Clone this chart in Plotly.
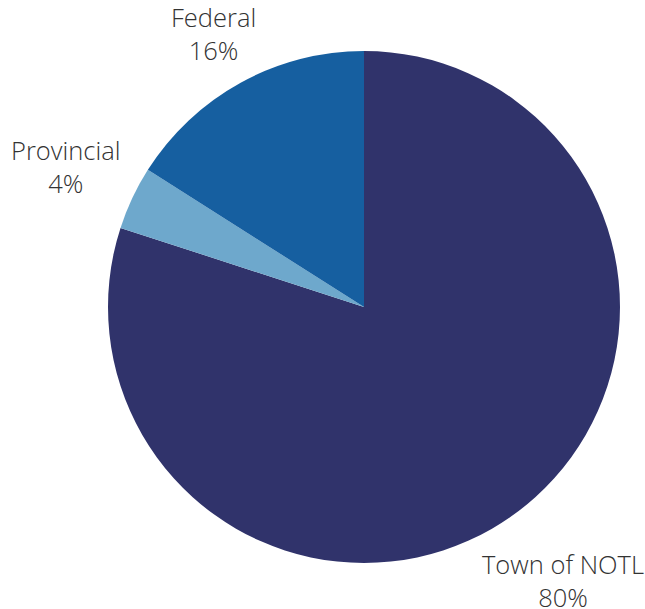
import math
import plotly.graph_objects as go

labels = ["Town of NOTL", "Provincial", "Federal"]
values = [80, 4, 16]
colors = ["#30336b", "#6ea8cc", "#165fa0"]

W, H = 645, 609
M = dict(l=108, r=25, t=51, b=46)
FONT_SIZE = 25.5
LABEL_GAP = 9  # px between pie edge and label box


def text_width(s, size):
    w = 0.0
    for ch in s:
        if ch in "iljtfrI1 ":
            w += 0.28
        elif ch == "%":
            w += 0.82
        elif ch in "mwMW":
            w += 0.85
        elif ch.isupper():
            w += 0.62
        else:
            w += 0.56
    return w * size


fig = go.Figure(go.Pie(
    labels=labels,
    values=values,
    sort=False,
    direction="clockwise",
    rotation=0,
    automargin=False,
    marker=dict(colors=colors, line=dict(width=0)),
    textinfo="none",
    showlegend=False,
    hoverinfo="label+percent",
))

# outside labels placed from the slice mid-angles
plot_w = W - M["l"] - M["r"]
plot_h = H - M["t"] - M["b"]
radius = min(plot_w, plot_h) / 2
total = sum(values)
annotations = []
cum = 0.0
for lab, v in zip(labels, values):
    mid = (cum + v / 2) / total * 2 * math.pi
    cum += v
    ux, uy = math.sin(mid), math.cos(mid)
    pct = f"{round(v / total * 100)}%"
    w = max(text_width(lab, FONT_SIZE), text_width(pct, FONT_SIZE))
    h = 2 * 1.18 * FONT_SIZE
    d = radius + LABEL_GAP + abs(ux) * w / 2 + abs(uy) * h / 2
    annotations.append(dict(
        x=0.5 + ux * d / plot_w, y=0.5 + uy * d / plot_h,
        xref="paper", yref="paper",
        xanchor="center", yanchor="middle",
        text=f"{lab}<br>{pct}", showarrow=False, align="center",
        font=dict(family="Open Sans", size=FONT_SIZE, color="#333333", weight=300),
    ))

fig.update_layout(
    width=W, height=H,
    margin=M,
    paper_bgcolor="white",
    plot_bgcolor="white",
    annotations=annotations,
)

fig.write_html("out.html", config={"displayModeBar": False},
               post_script="document.body.style.margin='0';document.body.style.overflow='hidden';")
